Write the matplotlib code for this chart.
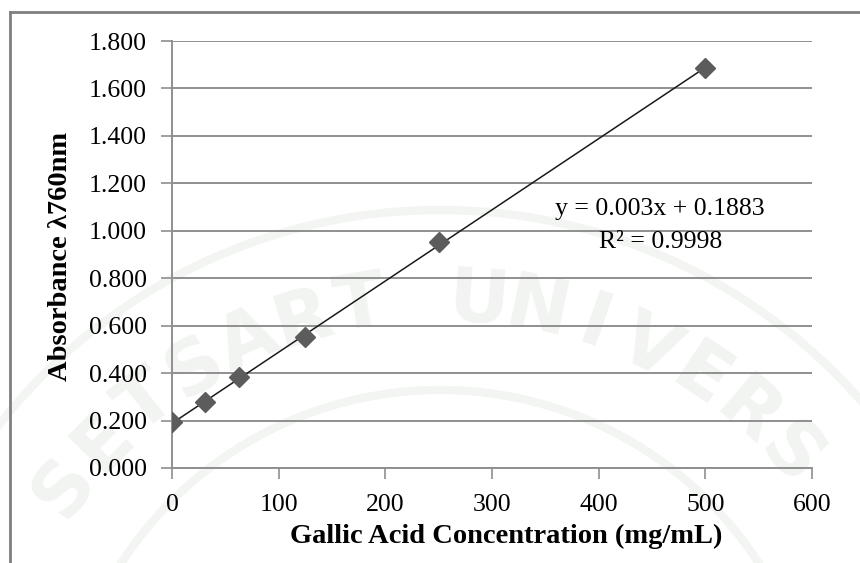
import numpy as np
import matplotlib.pyplot as plt

# calibration data
conc = [0, 31.25, 62.5, 125, 250, 500]
absorb = [0.195, 0.277, 0.382, 0.554, 0.951, 1.685]
slope = 0.003
intercept = 0.1883
r2 = 0.9998
xticks = [0, 100, 200, 300, 400, 500, 600]
yticks = [0.0, 0.2, 0.4, 0.6, 0.8, 1.0, 1.2, 1.4, 1.6, 1.8]
mark_text = "SETSART UNIVERS"

plt.rcParams['font.family'] = ['Liberation Serif', 'DejaVu Serif']

W, H = 860, 563
fig = plt.figure(figsize=(W / 100, H / 100), dpi=100)

# faint watermark letters along an arc
cx, cy, rad = 440, 770, 470
angs = np.linspace(143, 42, len(mark_text))
for ch, a in zip(mark_text, angs):
    if ch == " ":
        continue
    px = cx + rad * np.cos(np.radians(a))
    py = cy - rad * np.sin(np.radians(a))
    fig.text(px / W, 1 - py / H, ch, fontsize=54, fontweight='bold',
             family='DejaVu Sans', color='#f1f4f0', rotation=a - 90,
             ha='center', va='center', zorder=-2)
tt = np.linspace(np.radians(20), np.radians(160), 200)
for rr in (380, 560):
    fig.lines.append(plt.Line2D((cx + rr * np.cos(tt)) / W, 1 - (cy - rr * np.sin(tt)) / H,
                                transform=fig.transFigure, color='#f3f5f2', lw=6, zorder=-2))

# frame lines
fig.lines.append(plt.Line2D([10 / W, 1], [1 - 12 / H] * 2, transform=fig.transFigure,
                            color='#7f7f7f', lw=2))
fig.lines.append(plt.Line2D([10 / W] * 2, [0, 1 - 12 / H], transform=fig.transFigure,
                            color='#7f7f7f', lw=2))

ax = fig.add_axes([172 / W, 1 - 468 / H, 640 / W, 427 / H])
ax.patch.set_alpha(0)

xs = np.array([0, 500])
ax.plot(xs, slope * xs + intercept, color='#1a1a1a', lw=1.1, zorder=3)
ax.plot(conc, absorb, linestyle='none', marker='D', markersize=10.5,
        color='#5c5c5c', zorder=4)

ax.set_xlim(0, 600)
ax.set_ylim(0, 1.8)
ax.set_xticks(xticks)
ax.set_yticks(yticks)
ax.set_yticklabels([f"{v:.3f}" for v in yticks])
ax.grid(axis='y', color='#8f8f8f', lw=1.4)
ax.set_axisbelow(True)
for s in ('top', 'right'):
    ax.spines[s].set_visible(False)
for s in ('left', 'bottom'):
    ax.spines[s].set_color('#8f8f8f')
    ax.spines[s].set_linewidth(1.4)
ax.tick_params(axis='both', direction='out', length=8, width=1.2, color='#8f8f8f',
               labelsize=18.5)
ax.tick_params(axis='y', pad=10)
ax.tick_params(axis='x', pad=11)

def fx(p):
    return (p - 172) / 640

def fy(p):
    return (468 - p) / 427

ax.text(fx(660), fy(215), "y = 0.003x + 0.1883", transform=ax.transAxes,
        ha='center', va='baseline', fontsize=18.5)
ax.text(fx(661), fy(248), f"R² = {r2}", transform=ax.transAxes,
        ha='center', va='baseline', fontsize=18.5)

fig.text(61 / W, 1 - 256 / H, "Absorbance λ760nm", rotation=90, ha='center',
         va='center', fontsize=20.5, fontweight='bold')
fig.text(506 / W, 1 - 543 / H, "Gallic Acid Concentration (mg/mL)", ha='center',
         va='baseline', fontsize=20.5, fontweight='bold')

fig.savefig('out.png', dpi=100)
